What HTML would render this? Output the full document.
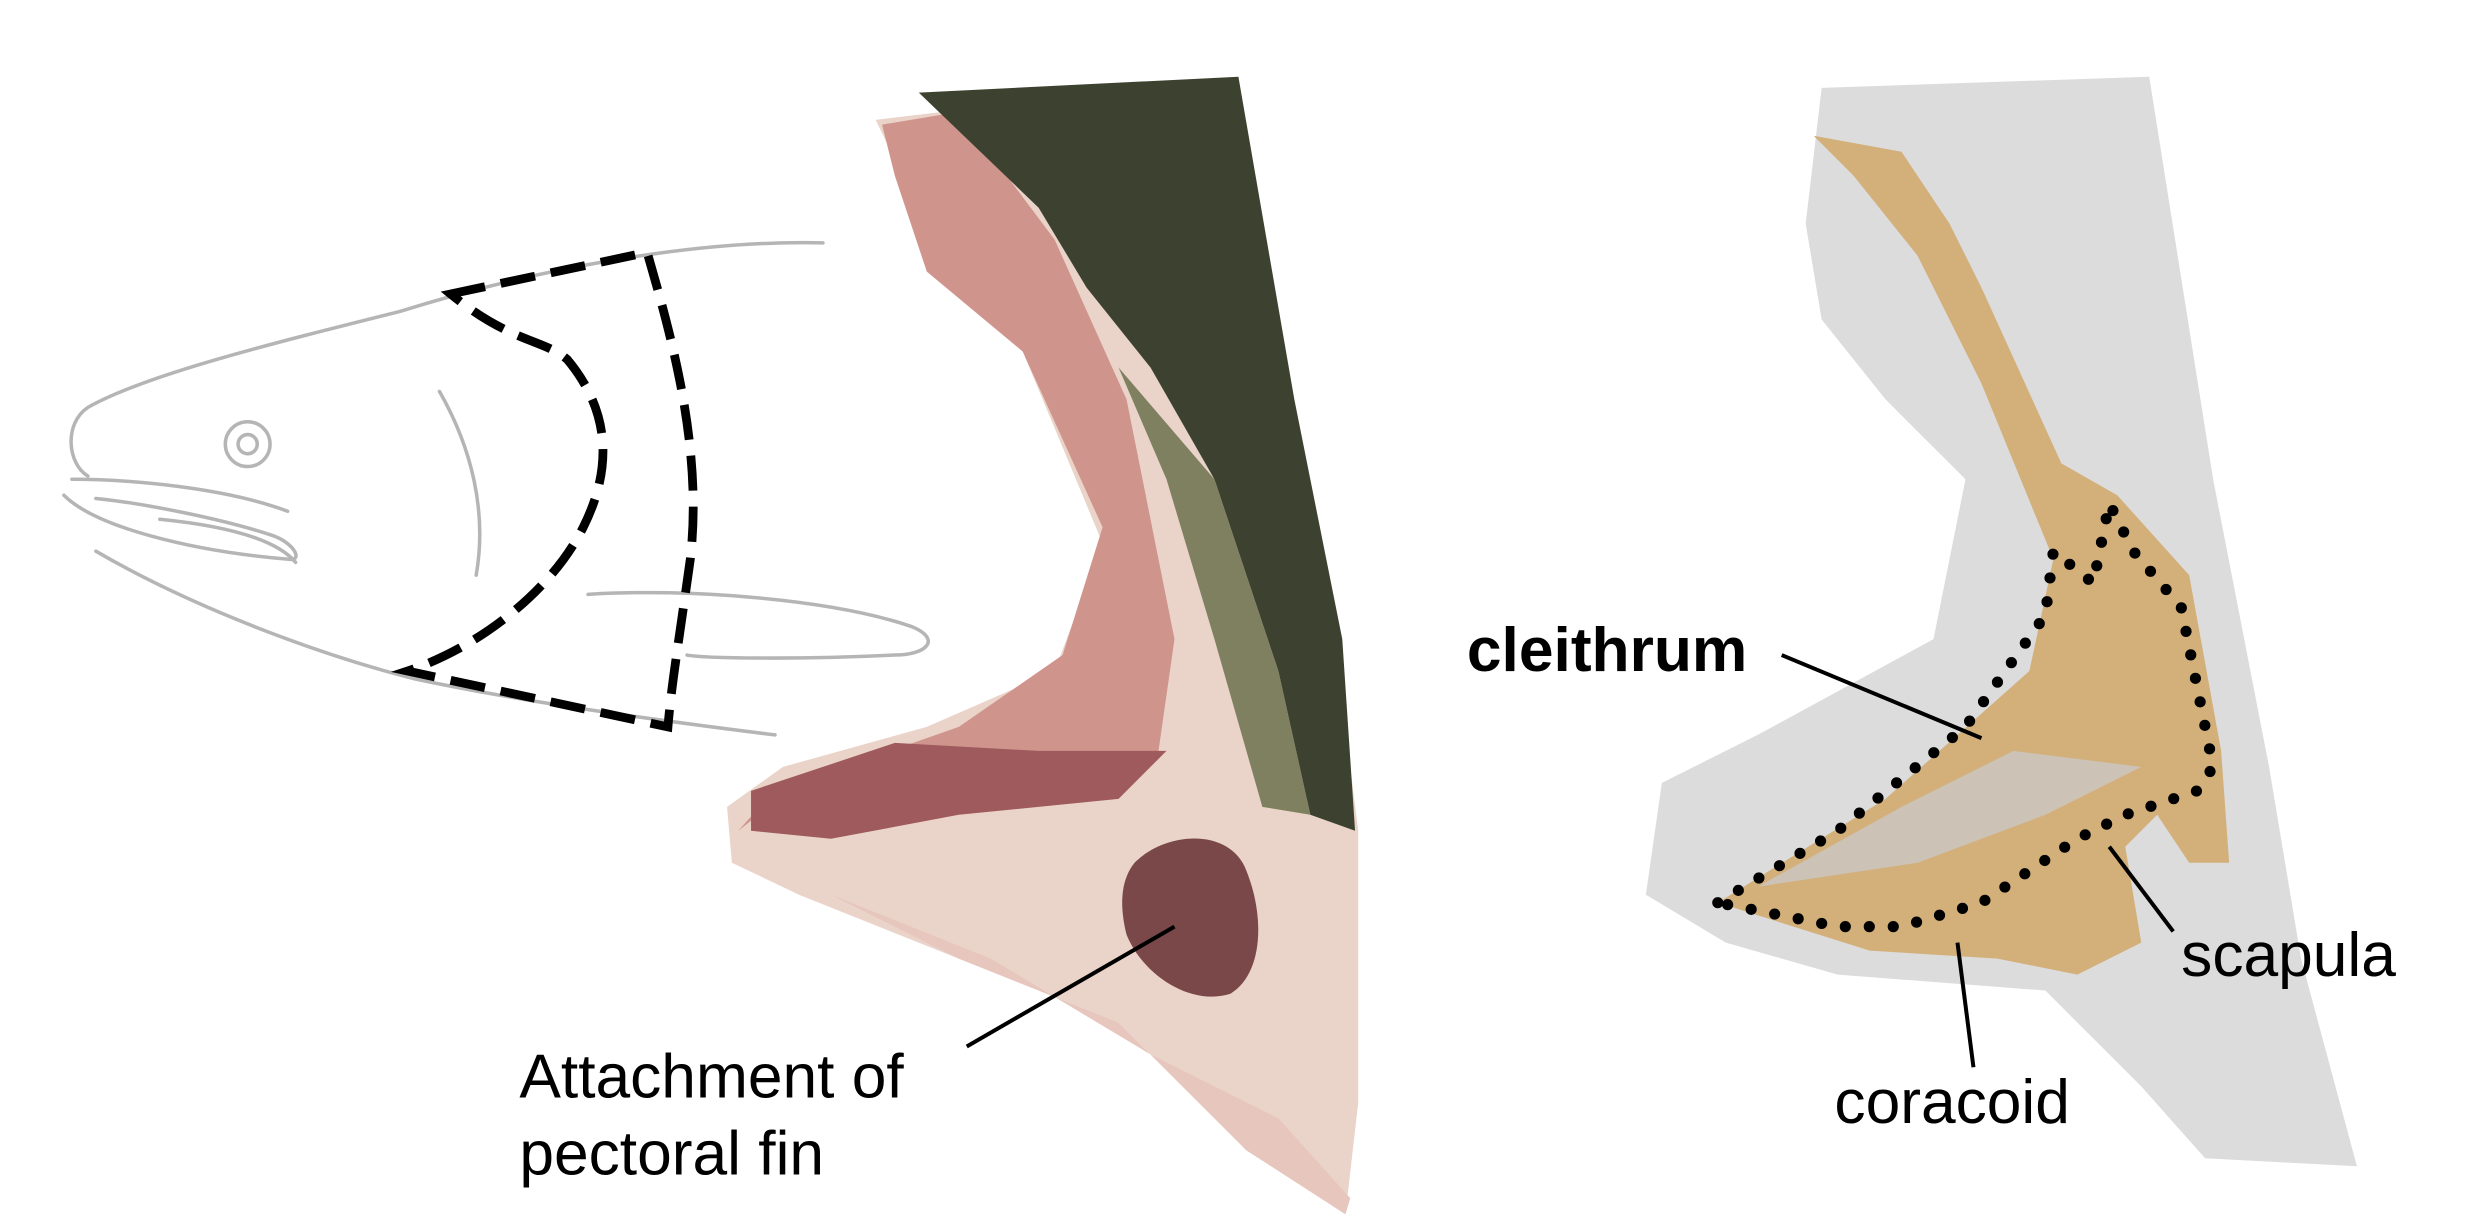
<!DOCTYPE html>
<html><head><meta charset="utf-8"><style>
html,body{margin:0;padding:0;background:#fff;}
svg{display:block;}
text{font-family:"Liberation Sans",Arial,sans-serif;fill:#000;}
</style></head><body>
<svg width="2480" height="1227" viewBox="0 0 1552 768" preserveAspectRatio="none">
<rect width="1552" height="768" fill="#fff"/>
<!-- fish sketch -->
<g fill="none" stroke="#b5b5b5" stroke-width="2.2" stroke-linecap="round">
<path d="M515,152 C430,150 330,170 250,195 C170,215 90,235 55,255 C40,265 42,290 55,298"/>
<path d="M45,300 C80,300 140,305 180,320"/>
<path d="M40,310 C60,330 120,345 180,350 C190,352 185,340 170,335 C140,325 90,315 60,312"/>
<path d="M100,325 C150,330 175,340 185,352"/>
<path d="M60,345 C120,380 200,410 260,425 C330,440 420,452 485,460"/>
<circle cx="155" cy="278" r="14"/><circle cx="155" cy="278" r="6"/>
<path d="M275,245 C295,280 305,320 298,360"/>
<path d="M368,372 C430,368 520,375 570,392 C590,400 580,410 560,410 C500,413 440,412 430,410"/>
</g>
<path d="M282,184 L405,158 C420,210 440,280 432,350 C425,400 420,430 418,455 L255,420 C300,405 345,370 365,330 C385,290 380,255 355,225 C340,212 320,215 282,184 Z" fill="none" stroke="#000" stroke-width="5.5" stroke-dasharray="22 10"/>
<!-- fish head photo -->
<path d="M548,75 L775,48 L800,200 L835,400 L850,520 L850,690 L842,760 L780,720 L700,640 L600,600 L500,560 L458,540 L455,505 L490,480 L580,455 L660,420 L690,340 L640,220 L580,160 L560,100 Z" fill="#ead3c8"/>
<path d="M552,78 L600,70 L660,150 L705,250 L735,400 L725,470 L650,480 L560,470 L480,500 L462,520 L500,490 L600,455 L665,410 L690,330 L640,220 L580,170 L560,110 Z" fill="#cf958d"/>
<path d="M470,495 L560,465 L650,470 L730,470 L700,500 L600,510 L520,525 L470,520 Z" fill="#9e5a5c"/>
<path d="M575,58 L775,48 L810,250 L840,400 L848,520 L820,510 L800,420 L760,300 L720,230 L680,180 L650,130 Z" fill="#3d4230"/>
<path d="M700,230 L760,300 L800,420 L820,510 L790,505 L760,400 L730,300 Z" fill="#7f8060"/>
<path d="M710,540 C730,520 770,518 780,545 C792,575 790,610 770,622 C745,630 715,610 705,585 C700,565 702,550 710,540 Z" fill="#7a4848"/>
<path d="M520,560 L620,600 L720,660 L800,700 L845,750 L842,760 L780,720 L700,640 L600,600 Z" fill="#e6c6bd"/>
<path d="M605,655 L735,580" stroke="#000" stroke-width="2.5"/>
<text x="325" y="687" font-size="39">Attachment of</text>
<text x="325" y="735" font-size="39">pectoral fin</text>
<!-- right -->
<path d="M1140,55 L1345,48 L1385,300 L1420,480 L1440,600 L1475,730 L1380,725 L1340,680 L1280,620 L1150,610 L1080,590 L1030,560 L1040,490 L1100,460 L1210,400 L1230,300 L1180,250 L1140,200 L1130,140 Z" fill="#dcdcdc"/>
<path d="M1135,85 L1190,95 L1220,140 L1240,180 L1290,290 L1325,310 L1370,360 L1390,470 L1395,540 L1370,540 L1350,510 L1330,530 L1340,590 L1300,610 L1250,600 L1170,595 L1075,565 L1180,500 L1270,420 L1285,350 L1240,240 L1200,160 L1160,110 Z" fill="#d3b07a"/>
<path d="M1100,555 L1190,505 L1260,470 L1340,480 L1280,510 L1200,540 Z" fill="#c9cbd0" opacity="0.7"/>
<path d="M1075,565 L1150,520 L1230,455 L1280,385 L1285,345 L1310,365 L1320,315 L1335,345 L1365,380 L1385,480 L1375,495 L1330,510 L1300,525 L1240,565 L1190,580 L1150,580 Z" fill="none" stroke="#000" stroke-width="7" stroke-dasharray="0 15" stroke-linecap="round"/>
<g stroke="#000" stroke-width="2.5">
<path d="M1115,410 L1240,462"/><path d="M1360,583 L1320,530"/><path d="M1235,668 L1225,590"/>
</g>
<text x="918" y="420" font-size="39" font-weight="bold">cleithrum</text>
<text x="1365" y="611" font-size="39">scapula</text>
<text x="1148" y="703" font-size="39">coracoid</text>
</svg>
</body></html>
